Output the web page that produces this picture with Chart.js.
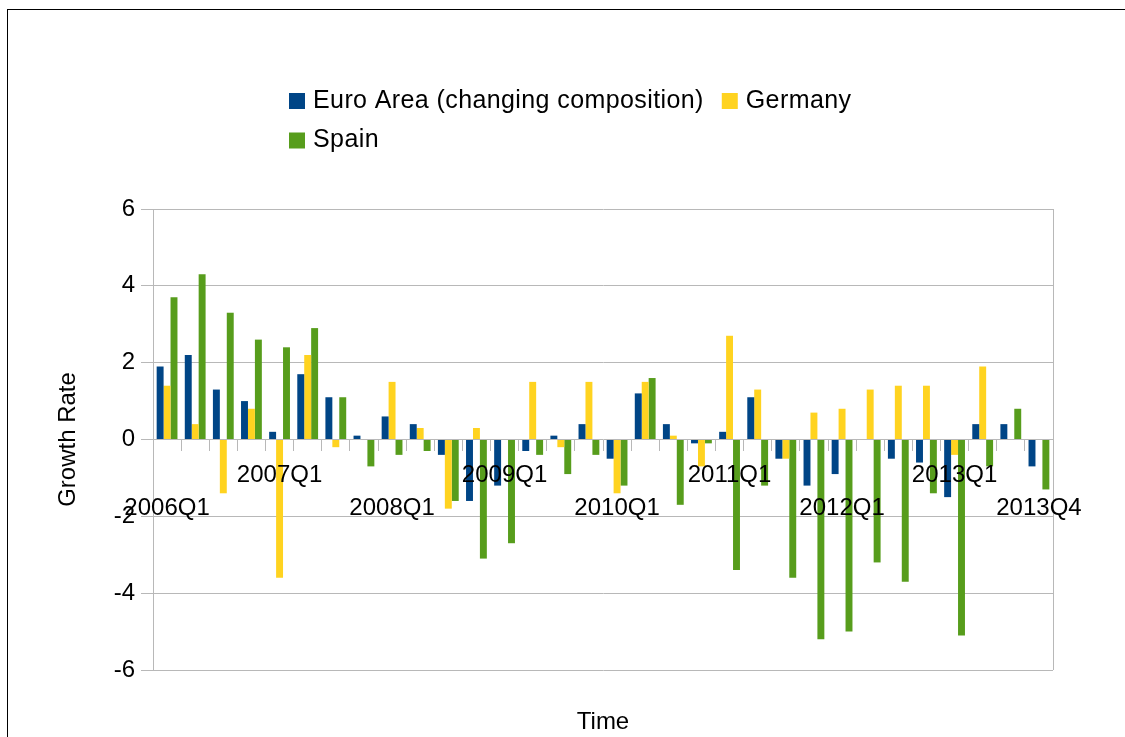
<!DOCTYPE html>
<html><head><meta charset="utf-8">
<script src="https://cdn.jsdelivr.net/npm/chart.js@4/dist/chart.umd.min.js"></script>
<style>
html,body{margin:0;padding:0;background:#fff;overflow:hidden;}
#wrap{position:relative;width:1125px;height:737px;}
#frame{position:absolute;left:7px;top:9px;width:1300px;height:900px;border-left:1px solid #000;border-top:1px solid #000;pointer-events:none;}
</style></head><body>
<div id="wrap"><canvas id="c" width="1125" height="737"></canvas><div id="frame"></div></div>
<script>
const categories = ['2006Q1','2006Q2','2006Q3','2006Q4','2007Q1','2007Q2','2007Q3','2007Q4',
  '2008Q1','2008Q2','2008Q3','2008Q4','2009Q1','2009Q2','2009Q3','2009Q4',
  '2010Q1','2010Q2','2010Q3','2010Q4','2011Q1','2011Q2','2011Q3','2011Q4',
  '2012Q1','2012Q2','2012Q3','2012Q4','2013Q1','2013Q2','2013Q3','2013Q4'];
const euroArea = [1.9, 2.2, 1.3, 1.0, 0.2, 1.7, 1.1, 0.1, 0.6, 0.4, -0.4, -1.6, -1.2, -0.3, 0.1, 0.4,
  -0.5, 1.2, 0.4, -0.1, 0.2, 1.1, -0.5, -1.2, -0.9, 0.0, -0.5, -0.6, -1.5, 0.4, 0.4, -0.7];
const germany = [1.4, 0.4, -1.4, 0.8, -3.6, 2.2, -0.2, 0.0, 1.5, 0.3, -1.8, 0.3, 0.0, 1.5, -0.2, 1.5,
  -1.4, 1.5, 0.1, -0.7, 2.7, 1.3, -0.5, 0.7, 0.8, 1.3, 1.4, 1.4, -0.4, 1.9, 0.0, 0.0];
const spain = [3.7, 4.3, 3.3, 2.6, 2.4, 2.9, 1.1, -0.7, -0.4, -0.3, -1.6, -3.1, -2.7, -0.4, -0.9, -0.4,
  -1.2, 1.6, -1.7, -0.1, -3.4, -1.2, -3.6, -5.2, -5.0, -3.2, -3.7, -1.4, -5.1, -0.7, 0.8, -1.3];
const yTickValues = [-6, -4, -2, 0, 2, 4, 6];
const seriesNames = ['Euro Area (changing composition)', 'Germany', 'Spain'];
const seriesColors = ['#004586', '#ffd320', '#579d1c'];
const xTitle = 'Time';
const yTitle = 'Growth Rate';

const FONT = "'Liberation Sans', Arial, sans-serif";
Chart.defaults.font.family = FONT;
const GRID = '#b8b8b8';

const legendPlugin = {
  id: 'customLegend',
  afterDraw(chart) {
    const ctx = chart.ctx;
    ctx.save();
    ctx.font = '25px ' + FONT;
    try { ctx.letterSpacing = '0.4px'; } catch (e) {}
    ctx.textBaseline = 'middle';
    ctx.textAlign = 'left';
    const rows = [[0, 1], [2]];
    const rowY = [101, 140.5];
    const x0 = 289;
    rows.forEach((row, r) => {
      let x = x0;
      row.forEach(i => {
        const ds = chart.data.datasets[i];
        ctx.fillStyle = ds.backgroundColor;
        ctx.fillRect(x, rowY[r] - 8, 16, 16);
        x += 24;
        ctx.fillStyle = '#000';
        ctx.fillText(ds.label, x, rowY[r]);
        x += ctx.measureText(ds.label).width + 18;
      });
    });
    ctx.restore();
  }
};

const framePlugin = {
  id: 'frame',
  beforeDatasetsDraw(chart) {
    const a = chart.chartArea, ctx = chart.ctx;
    ctx.save();
    ctx.strokeStyle = GRID;
    ctx.lineWidth = 1;
    ctx.beginPath();
    ctx.moveTo(Math.round(a.right) + 0.5, a.top);
    ctx.lineTo(Math.round(a.right) + 0.5, a.bottom);
    ctx.stroke();
    ctx.restore();
  }
};

new Chart(document.getElementById('c'), {
  type: 'bar',
  data: {
    labels: categories,
    datasets: [
      { label: seriesNames[0], data: euroArea, backgroundColor: seriesColors[0] },
      { label: seriesNames[1], data: germany, backgroundColor: seriesColors[1] },
      { label: seriesNames[2], data: spain, backgroundColor: seriesColors[2] }
    ]
  },
  options: {
    responsive: false,
    animation: false,
    devicePixelRatio: 1,
    layout: { padding: { left: 0, right: 72, top: 209, bottom: 0 } },
    datasets: { bar: { categoryPercentage: 0.74, barPercentage: 1.0, borderWidth: 0 } },
    plugins: { legend: { display: false }, tooltip: { enabled: false }, title: { display: false } },
    scales: {
      x: {
        position: { y: 0 },
        offset: true,
        grid: { offset: true, drawOnChartArea: false, drawTicks: true, tickLength: 11, color: GRID },
        border: { display: false },
        ticks: {
          autoSkip: false, maxRotation: 0, minRotation: 0, padding: 9, z: 1,
          color: '#000', font: { size: 24, lineHeight: 1.35 },
          callback: function (value, index) {
            const last = categories.length - 1;
            if (index % 4 !== 0 && index !== last) return '';
            const k = index === last ? 8 : index / 4;
            const lbl = categories[index];
            return k % 2 === 0 ? ['', lbl] : [lbl];
          }
        }
      },
      x2: {
        type: 'category',
        position: 'bottom',
        labels: categories,
        grid: { display: false },
        border: { display: false },
        ticks: { display: false },
        title: { display: true, text: xTitle, color: '#000', font: { size: 24 }, padding: { top: 38, bottom: 0 } },
        afterFit: s => { s.height = 67; }
      },
      y: {
        min: -6, max: 6,
        afterBuildTicks: s => { s.ticks = yTickValues.map(v => ({ value: v })); },
        ticks: { color: '#000', font: { size: 24 }, padding: 6 },
        grid: { color: GRID, tickLength: 12, lineWidth: 1 },
        border: { display: true, color: GRID },
        title: { display: true, text: yTitle, color: '#000', font: { size: 24 }, padding: { top: 54, bottom: 0 } },
        afterFit: s => { s.width = 153; }
      }
    }
  },
  plugins: [framePlugin, legendPlugin]
});
</script>
</body></html>
